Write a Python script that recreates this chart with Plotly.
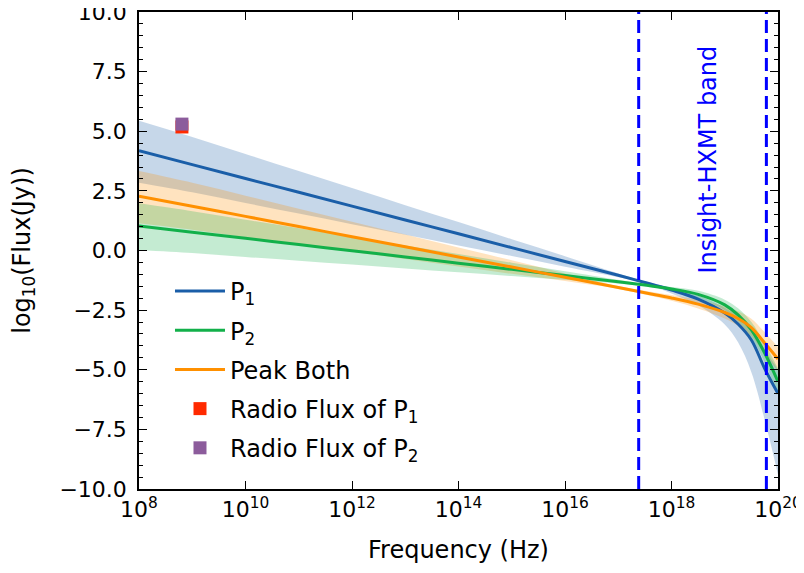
import plotly.graph_objects as go

# log10(frequency / Hz) grid at which the curves were read
log_nu = [8, 9, 10, 11, 12, 13, 14, 15, 16, 17, 17.5, 18, 18.5, 19, 19.25, 19.5, 19.75, 20]

p1_mid = [4.18, 3.60, 3.02, 2.44, 1.86, 1.28, 0.70, 0.12, -0.46, -1.04, -1.34, -1.66, -2.04, -2.62, -3.08, -3.75, -4.95, -6.0]
p1_hi  = [5.44, 4.76, 4.05, 3.33, 2.62, 1.90, 1.19, 0.47, -0.24, -0.96, -1.29, -1.56, -1.89, -2.40, -2.78, -3.35, -4.15, -5.0]
p1_lo  = [2.84, 2.44, 1.99, 1.55, 1.10, 0.66, 0.21, -0.23, -0.68, -1.12, -1.39, -1.80, -2.30, -3.10, -3.85, -5.10, -7.10, -9.4]

p2_mid = [1.03, 0.77, 0.51, 0.25, -0.01, -0.27, -0.53, -0.79, -1.05, -1.31, -1.45, -1.61, -1.84, -2.28, -2.70, -3.33, -4.30, -5.5]
p2_hi  = [1.98, 1.65, 1.29, 0.93, 0.57, 0.21, -0.15, -0.51, -0.87, -1.23, -1.40, -1.53, -1.69, -2.06, -2.42, -3.00, -3.90, -4.95]
p2_lo  = [0.02, -0.11, -0.27, -0.43, -0.59, -0.75, -0.91, -1.07, -1.23, -1.39, -1.50, -1.69, -1.99, -2.50, -2.98, -3.66, -4.70, -6.05]

pb_mid = [2.28, 1.855, 1.43, 1.005, 0.58, 0.155, -0.27, -0.695, -1.12, -1.55, -1.77, -1.99, -2.25, -2.60, -2.85, -3.23, -3.88, -4.55]
pb_hi  = [3.33, 2.84, 2.30, 1.75, 1.21, 0.67, 0.13, -0.41, -0.96, -1.49, -1.69, -1.87, -2.07, -2.35, -2.55, -2.86, -3.43, -4.05]
pb_lo  = [1.14, 0.87, 0.56, 0.26, -0.05, -0.36, -0.67, -0.98, -1.28, -1.61, -1.85, -2.11, -2.43, -2.85, -3.15, -3.60, -4.35, -5.05]

radio_nu = [6.4e8]
radio_p1 = [5.18]
radio_p2 = [5.30]

band_nu = [2.42e17, 6.05e19]

xtick_vals = [1e8, 1e10, 1e12, 1e14, 1e16, 1e18, 1e20]
xtick_text = ["10<sup>8</sup>", "10<sup>10</sup>", "10<sup>12</sup>", "10<sup>14</sup>",
              "10<sup>16</sup>", "10<sup>18</sup>", "10<sup>20</sup>"]
ytick_vals = [-10, -7.5, -5, -2.5, 0, 2.5, 5, 7.5, 10]

nu = [10.0 ** v for v in log_nu]

C_P1 = "#1a5ea8"
C_P2 = "#12b04a"
C_PB = "#ff9000"

def rgba(hexc, a):
    h = hexc.lstrip("#")
    r, g, b = int(h[0:2], 16), int(h[2:4], 16), int(h[4:6], 16)
    return f"rgba({r},{g},{b},{a})"

fig = go.Figure()

def add_band(lo, hi, col):
    fig.add_trace(go.Scatter(x=nu, y=lo, mode="lines", line=dict(width=0, shape="spline"),
                             showlegend=False, hoverinfo="skip"))
    fig.add_trace(go.Scatter(x=nu, y=hi, mode="lines", line=dict(width=0, shape="spline"),
                             fill="tonexty", fillcolor=rgba(col, 0.25),
                             showlegend=False, hoverinfo="skip"))

add_band(p1_lo, p1_hi, C_P1)
add_band(pb_lo, pb_hi, C_PB)
add_band(p2_lo, p2_hi, C_P2)

fig.add_trace(go.Scatter(x=nu, y=p1_mid, mode="lines", name="P<sub>1</sub>",
                         line=dict(color=C_P1, width=3, shape="spline"), legendgroup="a"))
fig.add_trace(go.Scatter(x=nu, y=p2_mid, mode="lines", name="P<sub>2</sub>",
                         line=dict(color=C_P2, width=3, shape="spline"), legendgroup="b"))
fig.add_trace(go.Scatter(x=nu, y=pb_mid, mode="lines", name="Peak Both",
                         line=dict(color=C_PB, width=3, shape="spline"), legendgroup="c"))
fig.add_trace(go.Scatter(x=radio_nu, y=radio_p1, mode="markers", name="Radio Flux of P<sub>1</sub>",
                         marker=dict(symbol="square", size=13, color="#ff2a00"), legendgroup="d"))
fig.add_trace(go.Scatter(x=radio_nu, y=radio_p2, mode="markers", name="Radio Flux of P<sub>2</sub>",
                         marker=dict(symbol="square", size=13, color="#8c5c9c"), legendgroup="e"))

for v in band_nu:
    fig.add_trace(go.Scatter(x=[v, v], y=[-10, 10], mode="lines", showlegend=False, hoverinfo="skip",
                             line=dict(color="#0000ff", width=3, dash="13px,6px")))

fig.add_annotation(x=18.68, y=3.8, xref="x", yref="y", text="Insight-HXMT band", textangle=-90,
                   showarrow=False, font=dict(size=24, color="#0000ff", family="DejaVu Sans"))

font = dict(family="DejaVu Sans", size=24, color="black")
tfont = dict(family="DejaVu Sans", size=22, color="black")
fig.update_layout(
    width=796, height=565,
    margin=dict(l=131, r=26, t=4, b=84, autoexpand=False),
    plot_bgcolor="white", paper_bgcolor="white",
    font=font,
    showlegend=True,
    legend=dict(x=0.0485, y=0.04, xanchor="left", yanchor="bottom", bgcolor="rgba(0,0,0,0)",
                font=dict(family="DejaVu Sans", size=24), traceorder="grouped", tracegroupgap=5,
                itemwidth=50),
    xaxis=dict(type="log", range=[8, 20], tickvals=xtick_vals, ticktext=xtick_text,
               ticks="inside", ticklen=8, tickwidth=1.2, tickcolor="black",
               showline=True, linecolor="black", linewidth=1.5, mirror="ticks",
               showgrid=False, zeroline=False, automargin=False,
               tickfont=tfont, ticklabeloverflow="allow",
               title=dict(text="Frequency (Hz)", font=font, standoff=20)),
    yaxis=dict(range=[-10, 10], tickvals=ytick_vals, tickformat=".1f",
               ticks="inside", ticklen=8, tickwidth=1.2, tickcolor="black",
               minor=dict(dtick=0.5, ticks="inside", ticklen=4, tickcolor="black", tickwidth=1),
               showline=True, linecolor="black", linewidth=1.5, mirror="ticks",
               showgrid=False, zeroline=False, automargin=False,
               tickfont=tfont, ticklabelstandoff=6, ticklabeloverflow="allow",
               title=dict(text="log<sub>10</sub>(Flux(Jy))", font=font, standoff=28)),
)

fig.write_html("out.html")
